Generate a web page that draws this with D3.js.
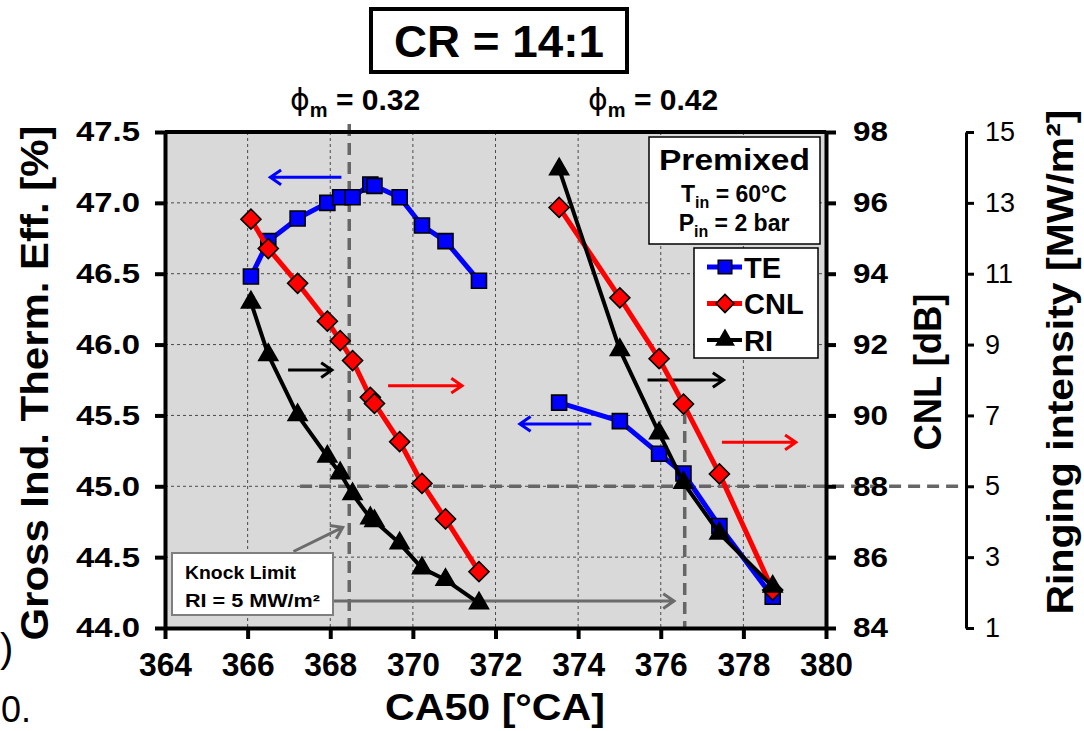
<!DOCTYPE html>
<html>
<head>
<meta charset="utf-8">
<script src="https://cdn.jsdelivr.net/npm/d3@7"></script>
<style>
  body { margin: 0; background: #fff; }
  svg text { font-family: "Liberation Sans", Arial, sans-serif; }
</style>
</head>
<body>
<svg id="chart" width="1084" height="731"></svg>
<script>
// ---- data: phi_m = 0.32 sweep ----
const ca50Lean = [366.08, 366.50, 367.21, 367.93, 368.24, 368.54, 368.97, 369.07, 369.68, 370.22, 370.79, 371.60];
const teLean   = [46.48, 46.73, 46.89, 47.00, 47.04, 47.04, 47.13, 47.12, 47.04, 46.84, 46.73, 46.45];
const cnlLean  = [95.54, 94.71, 93.73, 92.66, 92.11, 91.55, 90.51, 90.34, 89.26, 88.08, 87.08, 85.59];
const riLean   = [10.19, 8.71, 7.01, 5.84, 5.37, 4.78, 4.10, 4.02, 3.39, 2.69, 2.36, 1.70];

// ---- data: phi_m = 0.42 sweep ----
const ca50Rich = [373.54, 375.01, 375.96, 376.55, 377.42, 378.71];
const teRich   = [45.59, 45.46, 45.23, 45.09, 44.72, 44.22];
const cnlRich  = [95.87, 93.32, 91.60, 90.32, 88.35, 85.07];
const riRich   = [13.95, 8.85, 6.50, 5.10, 3.67, 2.17];

// ---- axes ticks ----
const xTicks   = [364, 366, 368, 370, 372, 374, 376, 378, 380];
const teTicks  = [44.0, 44.5, 45.0, 45.5, 46.0, 46.5, 47.0, 47.5];
const cnlTicks = [84, 86, 88, 90, 92, 94, 96, 98];
const riTicks  = [1, 3, 5, 7, 9, 11, 13, 15];

// knock limit and the CA50 at which each sweep reaches it
const knockRI = 5;
const knockCA50 = [368.46, 376.58];

const seriesNames = ["TE", "CNL", "RI"];

const svg = d3.select("#chart");
const L = 165, R = 826, T = 132, B = 628, RIX = 966;

const x    = d3.scaleLinear().domain([364, 380]).range([L, R]);
const yTE  = d3.scaleLinear().domain([44, 47.5]).range([B, T]);
const yCNL = d3.scaleLinear().domain([84, 98]).range([B, T]);
const yRI  = d3.scaleLinear().domain([1, 15]).range([B, T]);

// plot background
svg.append("rect").attr("x", L).attr("y", T).attr("width", R - L).attr("height", B - T)
  .attr("fill", "#d9d9d9");

// dotted grid
const grid = svg.append("g").attr("stroke", "#4a4a4a").attr("stroke-width", 1)
  .attr("stroke-dasharray", "3,3");
xTicks.slice(1, -1).forEach(v => grid.append("line")
  .attr("x1", x(v)).attr("x2", x(v)).attr("y1", T).attr("y2", B));
teTicks.slice(1, -1).forEach(v => grid.append("line")
  .attr("x1", L).attr("x2", R).attr("y1", yTE(v)).attr("y2", yTE(v)));

// knock limit reference lines
const ref = svg.append("g").attr("stroke", "#666").attr("stroke-width", 3.5)
  .attr("stroke-dasharray", "12,7").attr("fill", "none");
ref.append("line").attr("x1", x(367.27)).attr("x2", RIX)
  .attr("y1", yRI(knockRI)).attr("y2", yRI(knockRI));
ref.append("line").attr("x1", x(knockCA50[0])).attr("x2", x(knockCA50[0]))
  .attr("y1", T - 8).attr("y2", B + 2);
ref.append("line").attr("x1", x(knockCA50[1])).attr("x2", x(knockCA50[1]))
  .attr("y1", yCNL(90.1)).attr("y2", B + 2);

// arrows
function arrow(g, x1, y1, x2, y2, color, w) {
  const a = Math.atan2(y2 - y1, x2 - x1), h = 13, s = 0.6;
  const p = d3.path();
  p.moveTo(x1, y1); p.lineTo(x2, y2);
  p.moveTo(x2 - h * Math.cos(a - s), y2 - h * Math.sin(a - s));
  p.lineTo(x2, y2);
  p.lineTo(x2 - h * Math.cos(a + s), y2 - h * Math.sin(a + s));
  g.append("path").attr("d", p.toString()).attr("fill", "none")
    .attr("stroke", color).attr("stroke-width", w);
}
const ann = svg.append("g");
arrow(ann, x(368.27), yTE(47.18), x(366.55), yTE(47.18), "#0000ff", 3);
arrow(ann, x(366.98), yTE(45.82), x(368.04), yTE(45.82), "#000", 3);
arrow(ann, x(369.40), yTE(45.71), x(371.19), yTE(45.71), "#ff0000", 3);
arrow(ann, x(375.68), yTE(45.75), x(377.52), yTE(45.75), "#000", 3);
arrow(ann, x(374.32), yTE(45.44), x(372.59), yTE(45.44), "#0000ff", 3);
arrow(ann, x(377.48), yTE(45.31), x(379.27), yTE(45.31), "#ff0000", 3);
arrow(ann, x(367.11), yTE(44.54), x(368.30), yTE(44.71), "#6b6b6b", 3);
arrow(ann, x(368.07), yTE(44.19), x(376.32), yTE(44.19), "#6b6b6b", 3);

// knock limit note
const kb = svg.append("g");
kb.append("rect").attr("x", 172).attr("y", 553).attr("width", 161).attr("height", 62)
  .attr("fill", "#fff").attr("stroke", "#7f7f7f").attr("stroke-width", 2);
kb.append("text").attr("x", 185).attr("y", 579).attr("font-size", 18).attr("font-weight", "bold")
  .attr("textLength", 111).attr("lengthAdjust", "spacingAndGlyphs").text("Knock Limit");
kb.append("text").attr("x", 185).attr("y", 607).attr("font-size", 18).attr("font-weight", "bold")
  .attr("textLength", 135).attr("lengthAdjust", "spacingAndGlyphs").text("RI = 5 MW/m²");

// series
function symbolPath(kind, size) {
  if (kind === "TE") return d3.symbol(d3.symbolSquare, size * size)();
  if (kind === "CNL") return d3.symbol(d3.symbolSquare, size * size / 2)();
  return d3.symbol(d3.symbolTriangle, Math.sqrt(3) / 4 * size * size)();
}
const series = [
  { name: "TE",  color: "#0000ff", w: 5, y: yTE,  size: 15, groups: [[ca50Lean, teLean], [ca50Rich, teRich]] },
  { name: "CNL", color: "#ff0000", w: 5, y: yCNL, size: 20, groups: [[ca50Lean, cnlLean], [ca50Rich, cnlRich]] },
  { name: "RI",  color: "#000000", w: 4, y: yRI,  size: 19, groups: [[ca50Lean, riLean], [ca50Rich, riRich]] }
];
series.forEach(s => {
  const g = svg.append("g");
  s.groups.forEach(([xs, ys]) => {
    const pts = xs.map((v, i) => [x(v), s.y(ys[i])]);
    g.append("path").attr("d", d3.line()(pts)).attr("fill", "none")
      .attr("stroke", s.color).attr("stroke-width", s.w).attr("stroke-linejoin", "round");
    g.selectAll(null).data(pts).enter().append("path")
      .attr("d", symbolPath(s.name, s.size))
      .attr("transform", d => `translate(${d[0]},${d[1]})` + (s.name === "CNL" ? " rotate(45)" : ""))
      .attr("fill", s.name === "RI" ? "#000" : s.color)
      .attr("stroke", "#000").attr("stroke-width", 1.6);
  });
});

// frame top
svg.append("line").attr("x1", L).attr("x2", R).attr("y1", T).attr("y2", T)
  .attr("stroke", "#000").attr("stroke-width", 4);

// axes
function styleAxis(g, w, fs, weight, len) {
  g.select(".domain").attr("stroke-width", w);
  g.selectAll(".tick line").attr("stroke-width", w);
  g.selectAll(".tick text").attr("font-size", fs).attr("font-weight", weight)
    .attr("font-family", "Liberation Sans, Arial, sans-serif").attr("fill", "#000");
  if (len) g.selectAll(".tick text").attr("textLength", len).attr("lengthAdjust", "spacingAndGlyphs");
}
const axL = svg.append("g").attr("transform", `translate(${L},0)`)
  .call(d3.axisLeft(yTE).tickValues(teTicks).tickSize(10).tickSizeOuter(0).tickPadding(15)
    .tickFormat(d3.format(".1f")));
styleAxis(axL, 4, 28, "bold", 64);

const axR = svg.append("g").attr("transform", `translate(${R},0)`)
  .call(d3.axisRight(yCNL).tickValues(cnlTicks).tickSize(10).tickSizeOuter(0).tickPadding(17));
styleAxis(axR, 4, 28, "bold", 35);

const axB = svg.append("g").attr("transform", `translate(0,${B})`)
  .call(d3.axisBottom(x).tickValues(xTicks).tickSize(11).tickSizeOuter(0).tickPadding(14));
styleAxis(axB, 4, 33, "bold", 53);

const axRI = svg.append("g").attr("transform", `translate(${RIX},0)`)
  .call(d3.axisRight(yRI).tickValues(riTicks).tickSize(8).tickSizeOuter(0).tickPadding(11));
styleAxis(axRI, 3, 27, "normal", null);

// axis titles
svg.append("text").attr("transform", "translate(48,383) rotate(-90)").attr("text-anchor", "middle")
  .attr("font-size", 38).attr("font-weight", "bold")
  .attr("textLength", 515).attr("lengthAdjust", "spacingAndGlyphs")
  .text("Gross Ind. Therm. Eff. [%]");
svg.append("text").attr("transform", "translate(941,372) rotate(-90)").attr("text-anchor", "middle")
  .attr("font-size", 38).attr("font-weight", "bold")
  .attr("textLength", 157).attr("lengthAdjust", "spacingAndGlyphs")
  .text("CNL [dB]");
svg.append("text").attr("transform", "translate(1073,362) rotate(-90)")
  .attr("text-anchor", "middle").attr("font-size", 37).attr("font-weight", "bold")
  .attr("textLength", 505).attr("lengthAdjust", "spacingAndGlyphs")
  .text("Ringing intensity [MW/m²]");
svg.append("text").attr("x", 495).attr("y", 720).attr("text-anchor", "middle")
  .attr("font-size", 37).attr("font-weight", "bold")
  .attr("textLength", 220).attr("lengthAdjust", "spacingAndGlyphs")
  .text("CA50 [°CA]");

// compression ratio box
svg.append("rect").attr("x", 371).attr("y", 9).attr("width", 256).attr("height", 63)
  .attr("fill", "#fff").attr("stroke", "#000").attr("stroke-width", 4);
svg.append("text").attr("x", 499).attr("y", 57).attr("text-anchor", "middle")
  .attr("font-size", 44).attr("font-weight", "bold")
  .attr("textLength", 210).attr("lengthAdjust", "spacingAndGlyphs")
  .text("CR = 14:1");

// equivalence ratio labels
function phiLabel(x0, val) {
  const t = svg.append("text").attr("x", x0).attr("y", 110).attr("font-size", 30).attr("font-weight", "bold");
  t.append("tspan").attr("font-family", "DejaVu Sans, sans-serif").attr("font-weight", "normal").text("ϕ");
  t.append("tspan").attr("font-size", 20).attr("dy", 7).text("m");
  t.append("tspan").attr("dy", -7).text(" = " + val);
}
phiLabel(290, "0.32");
phiLabel(588, "0.42");

// operating conditions box
const pb = svg.append("g");
pb.append("rect").attr("x", 649).attr("y", 137).attr("width", 171).attr("height", 107)
  .attr("fill", "#fff").attr("stroke", "#000").attr("stroke-width", 1.5);
pb.append("text").attr("x", 734.5).attr("y", 170).attr("text-anchor", "middle")
  .attr("font-size", 29).attr("font-weight", "bold")
  .attr("textLength", 151).attr("lengthAdjust", "spacingAndGlyphs").text("Premixed");
function condLine(y0, sym, rest) {
  const t = pb.append("text").attr("x", 734).attr("y", y0).attr("text-anchor", "middle")
    .attr("font-size", 23).attr("font-weight", "bold");
  t.append("tspan").text(sym);
  t.append("tspan").attr("font-size", 16).attr("dy", 6).text("in");
  t.append("tspan").attr("dy", -6).text(rest);
}
condLine(202, "T", " = 60°C");
condLine(231, "P", " = 2 bar");

// legend
const lg = svg.append("g");
lg.append("rect").attr("x", 694).attr("y", 248).attr("width", 124).attr("height", 110)
  .attr("fill", "#fff").attr("stroke", "#000").attr("stroke-width", 1.5);
series.forEach((s, i) => {
  const cy = 267 + i * 36.5;
  lg.append("line").attr("x1", 707).attr("x2", 742).attr("y1", cy).attr("y2", cy)
    .attr("stroke", s.color).attr("stroke-width", s.w);
  lg.append("path").attr("d", symbolPath(s.name, s.size * 0.9))
    .attr("transform", `translate(725,${cy})` + (s.name === "CNL" ? " rotate(45)" : ""))
    .attr("fill", s.name === "RI" ? "#000" : s.color).attr("stroke", "#000").attr("stroke-width", 1.6);
  lg.append("text").attr("x", 744).attr("y", cy + 10.5).attr("font-size", 29).attr("font-weight", "bold")
    .text(seriesNames[i]);
});

// partial text at the figure's left edge
svg.append("text").attr("x", 0).attr("y", 662).attr("font-size", 40).text(")");
svg.append("text").attr("x", 1).attr("y", 722).attr("font-size", 36).text("0.");
</script>
</body>
</html>
